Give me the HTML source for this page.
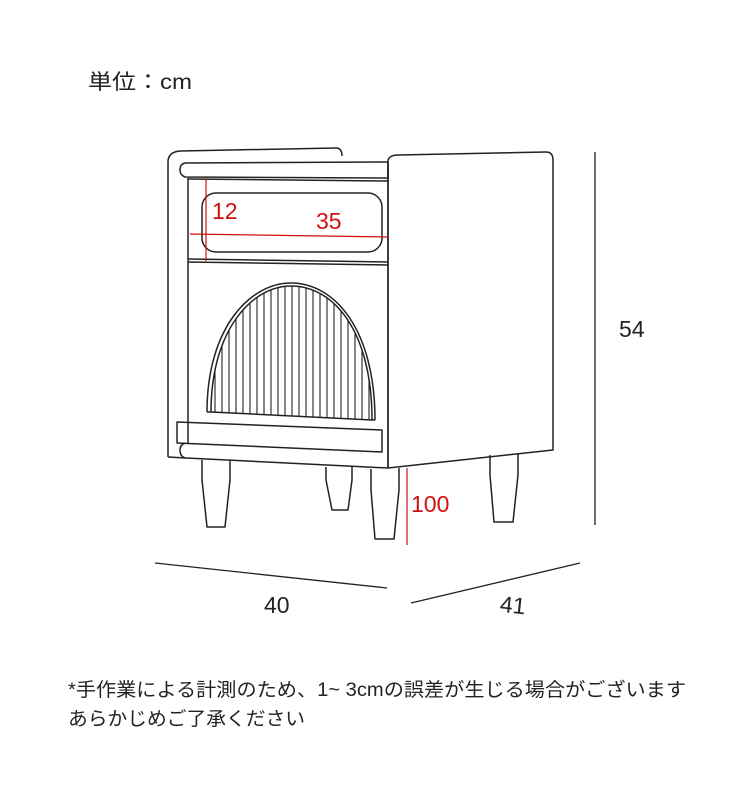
<!DOCTYPE html>
<html><head><meta charset="utf-8"><style>
html,body{margin:0;padding:0;background:#fff;}
svg{display:block;}
text{font-family:"Liberation Sans","Noto Sans CJK JP",sans-serif;}
</style></head><body>
<svg width="750" height="795" viewBox="0 0 750 795" xmlns="http://www.w3.org/2000/svg">
<defs>
<clipPath id="arch"><path d="M211,412 C211,330 252,286 291,286 C333,286 372,330 372,420 Z"/></clipPath>
</defs>
<text x="88" y="89" font-size="21" fill="#222" textLength="104" lengthAdjust="spacingAndGlyphs">単位：cm</text>
<g fill="none" stroke="#222" stroke-width="1.5" stroke-linejoin="round">
<path d="M168,457 L168,162 Q168,152 180,151 L336,148 Q342,148 342,156"/>
<path d="M185,163 L388,162 L388,178 L185,177 Q180,175 180,170 Q180,164 185,163 Z"/>
<line x1="188" y1="178" x2="188" y2="443"/>
<path d="M188,179 L388,181 M188,259 L388,262 M188,262 L388,265"/>
<rect x="202" y="193" width="180" height="59" rx="14"/>
<path d="M207,412 C207,328 250,283 291,283 C335,283 375,330 375,420"/>
<path d="M211,412 C211,330 252,286 291,286 C333,286 372,330 372,420"/>
<path d="M207,412 L211,412 L372,420 L375,420"/>
<path d="M177,422 L382,430 L382,452 L177,443 Z"/>
<path d="M185,443 Q180,445 180,450 Q180,457 186,458 L388,468"/>
<path d="M168,457 L186,458"/>
<path d="M388,162 L388,468"/>
<path d="M388,468 L388,160 Q390,155 398,155 L546,152 Q553,152 553,160 L553,450 L388,468"/>
<path d="M202,460 L202,480 L207,527 L225,527 L230,480 L230,460"/>
<path d="M326,467 L326,480 L332,510 L348,510 L352,480 L352,467"/>
<path d="M371,469 L371,490 L375,539 L394,539 L399,490 L399,468"/>
<path d="M490,455 L490,475 L494,522 L513,522 L518,475 L518,453"/>
</g>
<g clip-path="url(#arch)" stroke="#222" stroke-width="1.1">
<line x1="215" y1="280" x2="215" y2="430"/><line x1="222" y1="280" x2="222" y2="430"/>
<line x1="229" y1="280" x2="229" y2="430"/><line x1="236" y1="280" x2="236" y2="430"/>
<line x1="243" y1="280" x2="243" y2="430"/><line x1="250" y1="280" x2="250" y2="430"/>
<line x1="257" y1="280" x2="257" y2="430"/><line x1="264" y1="280" x2="264" y2="430"/>
<line x1="271" y1="280" x2="271" y2="430"/><line x1="278" y1="280" x2="278" y2="430"/>
<line x1="285" y1="280" x2="285" y2="430"/><line x1="292" y1="280" x2="292" y2="430"/>
<line x1="299" y1="280" x2="299" y2="430"/><line x1="306" y1="280" x2="306" y2="430"/>
<line x1="313" y1="280" x2="313" y2="430"/><line x1="320" y1="280" x2="320" y2="430"/>
<line x1="327" y1="280" x2="327" y2="430"/><line x1="334" y1="280" x2="334" y2="430"/>
<line x1="341" y1="280" x2="341" y2="430"/><line x1="348" y1="280" x2="348" y2="430"/>
<line x1="355" y1="280" x2="355" y2="430"/><line x1="362" y1="280" x2="362" y2="430"/>
<line x1="369" y1="280" x2="369" y2="430"/>
</g>
<g stroke="#d01010" stroke-width="1.2">
<line x1="206" y1="179" x2="206" y2="261"/>
<line x1="190" y1="234" x2="388" y2="237"/>
<line x1="407" y1="468" x2="407" y2="545"/>
</g>
<g fill="#d01010" font-size="23">
<text x="212" y="219">12</text>
<text x="316" y="229">35</text>
<text x="411" y="512">100</text>
</g>
<g stroke="#222" stroke-width="1.3">
<line x1="595" y1="152" x2="595" y2="525"/>
<line x1="155" y1="563" x2="387" y2="588"/>
<line x1="411" y1="603" x2="580" y2="563"/>
</g>
<g fill="#222" font-size="23">
<text x="619" y="337">54</text>
<text x="264" y="613">40</text>
<text x="500" y="613" transform="rotate(6 512 605)">41</text>
</g>
<g fill="#222" font-size="19">
<text x="68" y="696" textLength="618" lengthAdjust="spacingAndGlyphs">*手作業による計測のため、1~ 3cmの誤差が生じる場合がございます</text>
<text x="68" y="725" textLength="237" lengthAdjust="spacingAndGlyphs">あらかじめご了承ください</text>
</g>
</svg>
</body></html>
